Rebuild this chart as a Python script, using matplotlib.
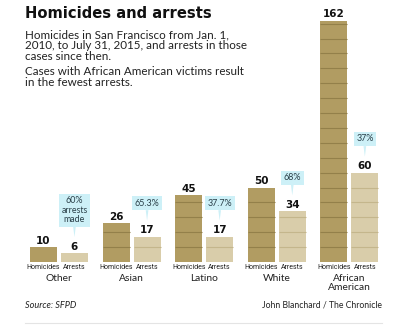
import matplotlib.pyplot as plt
import numpy as np

# data
groups = ['Other', 'Asian', 'Latino', 'White', 'African\nAmerican']
homicides = [10, 26, 45, 50, 162]
arrests = [6, 17, 17, 34, 60]
pct_labels = ['60%\narrests\nmade', '65.3%', '37.7%', '68%', '37%']

W, H = 400, 326
col_hom = '#b19c62'
col_arr = '#d9cdaa'
col_hom_line = '#93804a'
col_arr_line = '#c4b68c'
col_call = '#cdf0f7'

def fy(px):
    return 1 - px / H

fig = plt.figure(figsize=(W / 100, H / 100), dpi=100)
fig.patch.set_facecolor('white')
ax = fig.add_axes([0, 1 - 262 / H, 1, 241.3 / H])
ax.set_xlim(-0.8127, 4.697)
ax.set_ylim(0, 162)
ax.axis('off')

x = np.arange(len(groups))
off = 0.213
bw = 0.372
ax.bar(x - off, homicides, bw, color=col_hom, lw=0)
ax.bar(x + off, arrests, bw, color=col_arr, lw=0)

#lines every 10 inside the bars
for xi, h, a in zip(x, homicides, arrests):
    for lv in range(10, h, 10):
        ax.hlines(lv, xi - off - bw / 2, xi - off + bw / 2, color=col_hom_line, lw=0.8)
    for lv in range(10, a, 10):
        ax.hlines(lv, xi + off - bw / 2, xi + off + bw / 2, color=col_arr_line, lw=0.8)

#value labels
for xi, h, a in zip(x, homicides, arrests):
    for xx, v in [(xi - off, h), (xi + off, a)]:
        ax.annotate(str(v), (xx, v), xytext=(0, 2.5), textcoords='offset points',
                    ha='center', va='baseline', fontsize=7.5, fontweight='heavy',
                    family='DejaVu Sans', color='#111111')

#callouts above arrests bars
for xi, a, t in zip(x, arrests, pct_labels):
    ax.annotate(t, (xi + off, a), xytext=(0, 21), textcoords='offset points',
                ha='center', va='bottom', fontsize=6.4, family='Lato', color='#2a3f48',
                linespacing=1.05,
                bbox=dict(boxstyle='square,pad=0.3', fc=col_call, ec='none'),
                arrowprops=dict(arrowstyle='wedge,tail_width=0.3', fc=col_call, ec='none',
                                shrinkA=0, shrinkB=11.5))

#bar and group labels
for xi, g in zip(x, groups):
    ax.text(xi - off, -3.6, 'Homicides', ha='center', va='center', fontsize=5.0,
            family='Roboto', color='#222222')
    ax.text(xi + off, -3.6, 'Arrests', ha='center', va='center', fontsize=5.0,
            family='Roboto', color='#222222')
    ax.text(xi, -7.8, g, ha='center', va='top', fontsize=7.4, family='Lato',
            color='#222222', linespacing=1.0)

#title and notes
fig.text(25 / W, fy(14), 'Homicides and arrests', ha='left', va='center',
         fontsize=10.6, fontweight='heavy', family='DejaVu Sans', color='#111111')
fig.text(25 / W, fy(29), 'Homicides in San Francisco from Jan. 1,\n'
         '2010, to July 31, 2015, and arrests in those\ncases since then.',
         ha='left', va='top', fontsize=8.4, family='Lato', color='#222222', linespacing=1.0)
fig.text(25 / W, fy(66), 'Cases with African American victims result\nin the fewest arrests.',
         ha='left', va='top', fontsize=8.4, family='Lato', color='#222222', linespacing=1.0)

fig.text(25 / W, fy(305), 'Source: SFPD', ha='left', va='center', fontsize=6.6,
         style='italic', family='Lato', color='#222222')
fig.text(382 / W, fy(305), 'John Blanchard / The Chronicle', ha='right', va='center',
         fontsize=6.2, family='Lato', color='#222222')
fig.add_artist(plt.Line2D([25 / W, 382 / W], [fy(323), fy(323)], color='#e4e4e4', lw=0.8))

fig.savefig('out.png', dpi=100, facecolor='white')
